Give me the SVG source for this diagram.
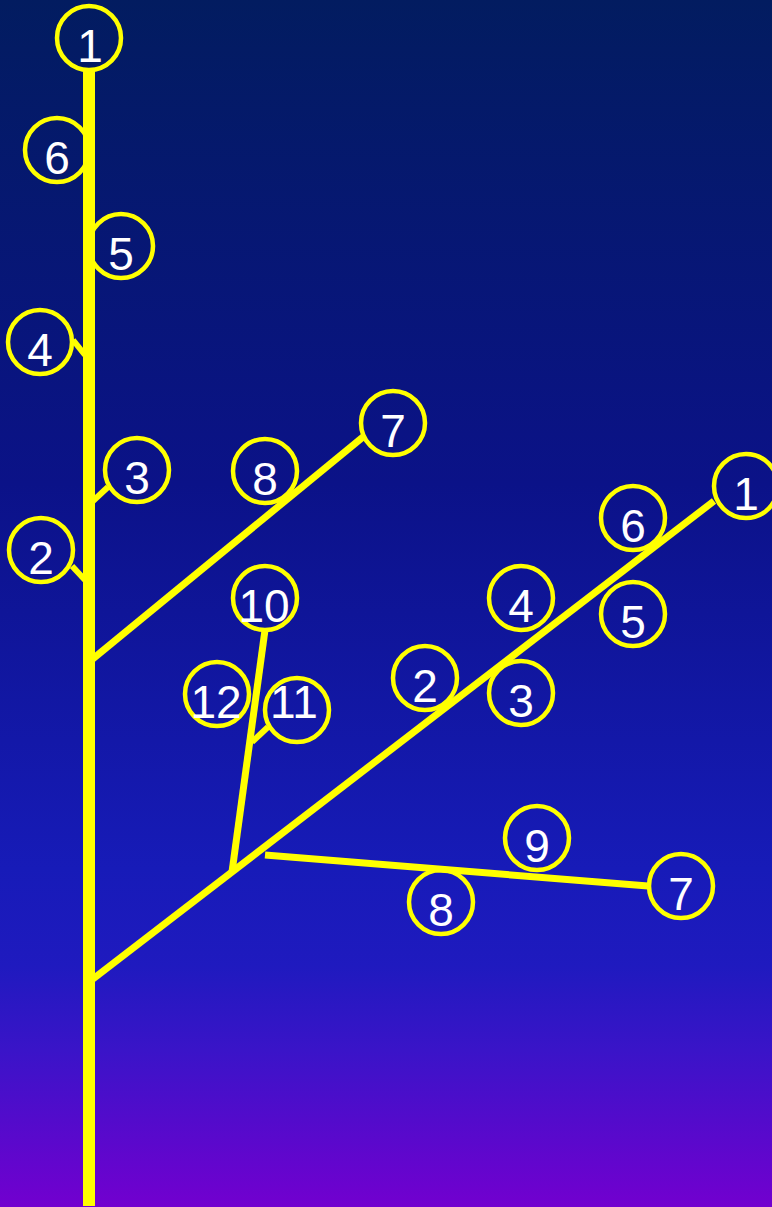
<svg xmlns="http://www.w3.org/2000/svg" width="772" height="1207" viewBox="0 0 772 1207">
  <defs>
    <linearGradient id="bg" x1="0" y1="0" x2="0" y2="1">
      <stop offset="0" stop-color="#021c60"/>
      <stop offset="0.4" stop-color="#0b1288"/>
      <stop offset="0.72" stop-color="#171bb8"/>
      <stop offset="0.8" stop-color="#1f1abf"/>
      <stop offset="0.87" stop-color="#3a14c8"/>
      <stop offset="1" stop-color="#7200cf"/>
    </linearGradient>
  </defs>
  <style>
    .ring { fill: none; stroke: #ffff00; stroke-width: 4.5; }
    .lbl { fill: #ffffff; font-family: "Liberation Sans", Arial, sans-serif; font-size: 46px; text-anchor: middle; }
    .stem { stroke: #ffff00; stroke-width: 12; stroke-linecap: butt; }
    .br { stroke: #ffff00; stroke-width: 7; stroke-linecap: butt; }
    .stub { stroke: #ffff00; stroke-width: 6; stroke-linecap: butt; }
  </style>
  <rect x="0" y="0" width="772" height="1207" fill="url(#bg)"/>

  <g id="nodes-stem">
    <g id="s1"><circle class="ring" cx="89" cy="38" r="32"/><text class="lbl" x="90" y="62">1</text></g>
    <g id="s6"><circle class="ring" cx="57" cy="150" r="32"/><text class="lbl" x="57" y="174">6</text></g>
    <g id="s5"><circle class="ring" cx="121" cy="246" r="32"/><text class="lbl" x="121" y="270">5</text></g>
    <g id="s4"><circle class="ring" cx="40" cy="342" r="32"/><text class="lbl" x="40" y="366">4</text></g>
    <g id="s3"><circle class="ring" cx="137" cy="470" r="32"/><text class="lbl" x="137" y="494">3</text></g>
    <g id="s2"><circle class="ring" cx="41" cy="550" r="32"/><text class="lbl" x="41" y="574">2</text></g>
  </g>
  <g id="nodes-branch-a">
    <g id="a7"><circle class="ring" cx="393" cy="423" r="32"/><text class="lbl" x="393" y="447">7</text></g>
    <g id="a8"><circle class="ring" cx="265" cy="471" r="32"/><text class="lbl" x="265" y="495">8</text></g>
  </g>
  <g id="nodes-branch-b">
    <g id="b1"><circle class="ring" cx="746" cy="486" r="32"/><text class="lbl" x="746" y="510">1</text></g>
    <g id="b6"><circle class="ring" cx="633" cy="518" r="32"/><text class="lbl" x="633" y="542">6</text></g>
    <g id="b4"><circle class="ring" cx="521" cy="598" r="32"/><text class="lbl" x="521" y="622">4</text></g>
    <g id="b5"><circle class="ring" cx="633" cy="614" r="32"/><text class="lbl" x="633" y="638">5</text></g>
    <g id="b2"><circle class="ring" cx="425" cy="678" r="32"/><text class="lbl" x="425" y="702">2</text></g>
    <g id="b3"><circle class="ring" cx="521" cy="693" r="32"/><text class="lbl" x="521" y="717">3</text></g>
  </g>
  <g id="nodes-branch-c">
    <g id="c10"><circle class="ring" cx="265" cy="598" r="32"/><text class="lbl" x="264" y="622">10</text></g>
    <g id="c12"><circle class="ring" cx="217" cy="694" r="32"/><text class="lbl" x="216" y="718">12</text></g>
    <g id="c11"><circle class="ring" cx="297" cy="710" r="32"/><text class="lbl" x="294" y="718">11</text></g>
  </g>
  <g id="nodes-branch-d">
    <g id="d7"><circle class="ring" cx="681" cy="886" r="32"/><text class="lbl" x="681" y="910">7</text></g>
    <g id="d9"><circle class="ring" cx="537" cy="838" r="32"/><text class="lbl" x="537" y="862">9</text></g>
    <g id="d8"><circle class="ring" cx="441" cy="902" r="32"/><text class="lbl" x="441" y="926">8</text></g>
  </g>

  <g id="connectors">
    <line class="stem" x1="89" y1="70" x2="89" y2="1206"/>
    <line class="br" x1="89" y1="662" x2="363" y2="437"/>
    <line class="br" x1="89" y1="982" x2="714" y2="501"/>
    <line class="br" x1="232" y1="872" x2="265" y2="630"/>
    <line class="br" x1="265" y1="855" x2="648" y2="886"/>
    <line class="stub" x1="73" y1="340" x2="85" y2="355"/>
    <line class="stub" x1="93" y1="501" x2="108" y2="487"/>
    <line class="stub" x1="72" y1="566" x2="85" y2="580"/>
    <line class="stub" x1="252" y1="742" x2="268" y2="727"/>
  </g>
</svg>
